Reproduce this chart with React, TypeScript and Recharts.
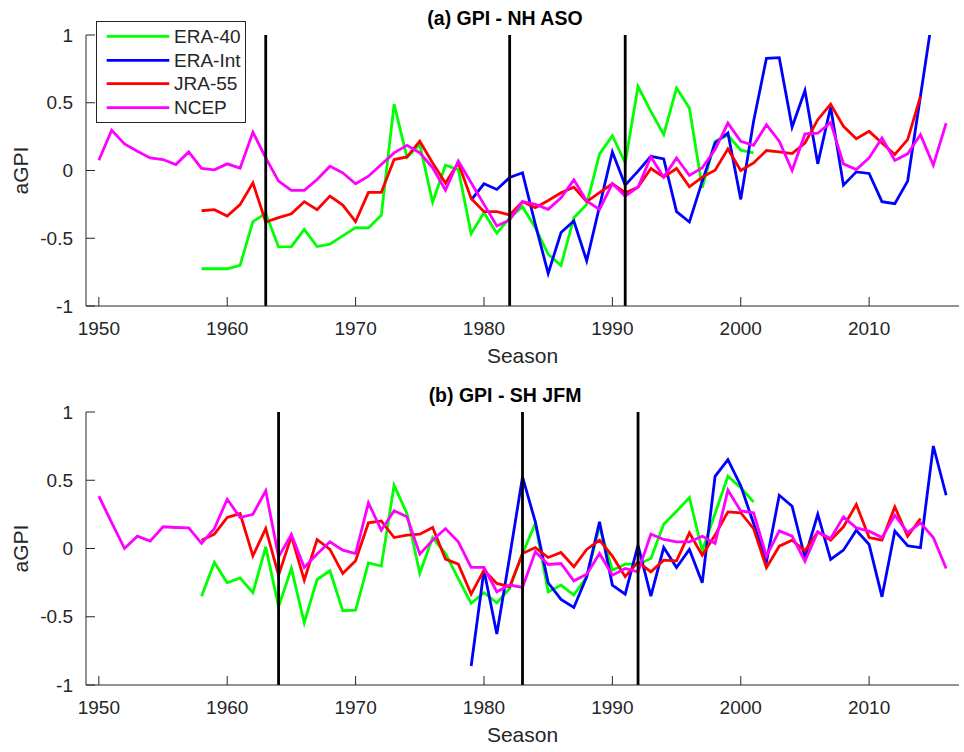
import React from 'react';
import { LineChart, Line, XAxis, YAxis, ReferenceLine, Legend } from 'recharts';

// ---------- data ----------
const FIRST_YEAR = 1950;
const LAST_YEAR = 2016;
const X_TICKS = [1950, 1960, 1970, 1980, 1990, 2000, 2010];
const Y_TICKS = [-1, -0.5, 0, 0.5, 1];

const SERIES_NAMES = ['ERA-40', 'ERA-Int', 'JRA-55', 'NCEP'];
const SERIES_COLORS = ['#00ff00', '#0000ff', '#ff0000', '#ff00ff'];

// Panel (a) GPI - NH ASO
const ERA40_A_START = 1958;
const ERA40_A = [-0.725, -0.725, -0.725, -0.7, -0.377, -0.316, -0.564, -0.562, -0.434, -0.561, -0.544, -0.483, -0.422, -0.424, -0.331, 0.49, 0.098, 0.191, -0.233, 0.039, 0.007, -0.466, -0.311, -0.463, -0.35, -0.267, -0.422, -0.618, -0.701, -0.348, -0.25, 0.123, 0.257, 0.056, 0.62, 0.436, 0.265, 0.608, 0.461, -0.127, 0.216, 0.26, 0.15, 0.13];
const ERAINT_A_START = 1979;
const ERAINT_A = [-0.218, -0.098, -0.14, -0.052, -0.017, -0.397, -0.76, -0.458, -0.373, -0.667, -0.265, 0.137, -0.108, -0.005, 0.105, 0.086, -0.304, -0.38, -0.08, 0.203, 0.277, -0.213, 0.363, 0.828, 0.833, 0.321, 0.591, 0.049, 0.468, -0.108, -0.01, -0.022, -0.23, -0.245, -0.078, 0.55, 1.18];
const JRA55_A_START = 1958;
const JRA55_A = [-0.297, -0.289, -0.336, -0.252, -0.091, -0.38, -0.348, -0.319, -0.23, -0.289, -0.189, -0.255, -0.377, -0.162, -0.162, 0.081, 0.1, 0.216, 0.056, -0.093, 0.056, -0.206, -0.304, -0.304, -0.328, -0.23, -0.275, -0.221, -0.164, -0.123, -0.23, -0.164, -0.098, -0.164, -0.123, 0.015, -0.049, 0.015, -0.12, -0.049, 0.002, 0.159, 0.0, 0.056, 0.147, 0.137, 0.125, 0.203, 0.375, 0.49, 0.326, 0.235, 0.289, 0.203, 0.118, 0.228, 0.547];
const NCEP_A_START = 1950;
const NCEP_A = [0.076, 0.297, 0.196, 0.142, 0.093, 0.081, 0.044, 0.137, 0.015, 0.005, 0.049, 0.017, 0.282, 0.093, -0.078, -0.147, -0.147, -0.066, 0.032, -0.017, -0.098, -0.042, 0.044, 0.13, 0.186, 0.13, 0.02, -0.145, 0.069, -0.09, -0.25, -0.409, -0.365, -0.23, -0.25, -0.287, -0.201, -0.069, -0.225, -0.287, -0.096, -0.189, -0.123, 0.1, -0.049, 0.093, -0.037, 0.02, 0.154, 0.35, 0.216, 0.186, 0.338, 0.216, 0.0, 0.27, 0.275, 0.355, 0.049, 0.007, 0.093, 0.24, 0.074, 0.123, 0.265, 0.039, 0.35];
const BREAKS_A = [1963, 1982, 1991];

// Panel (b) GPI - SH JFM
const ERA40_B_START = 1958;
const ERA40_B = [-0.349, -0.102, -0.251, -0.215, -0.324, 0.012, -0.427, -0.146, -0.544, -0.227, -0.163, -0.456, -0.451, -0.105, -0.129, 0.463, 0.256, -0.183, 0.08, -0.037, -0.22, -0.402, -0.324, -0.398, -0.293, -0.037, 0.183, -0.317, -0.268, -0.341, -0.207, 0.163, -0.159, -0.115, -0.115, -0.073, 0.178, 0.273, 0.373, -0.017, 0.256, 0.529, 0.446, 0.341];
const ERAINT_B_START = 1979;
const ERAINT_B = [-0.861, -0.159, -0.627, -0.06, 0.524, 0.195, -0.251, -0.373, -0.432, -0.207, 0.195, -0.268, -0.334, 0.024, -0.349, 0.007, -0.139, -0.007, -0.251, 0.529, 0.651, 0.46, 0.183, -0.098, 0.39, 0.31, -0.066, 0.251, -0.08, -0.012, 0.134, 0.029, -0.354, 0.127, 0.02, 0.007, 0.751, 0.39];
const JRA55_B_START = 1958;
const JRA55_B = [0.061, 0.105, 0.227, 0.256, -0.054, 0.146, -0.195, 0.09, -0.232, 0.066, -0.007, -0.183, -0.09, 0.188, 0.202, 0.08, 0.098, 0.105, 0.154, -0.078, -0.115, -0.334, -0.159, -0.256, -0.28, -0.037, 0.007, -0.066, -0.029, -0.134, -0.007, 0.061, -0.056, -0.207, -0.098, -0.171, -0.085, -0.09, 0.115, -0.049, 0.098, 0.268, 0.262, 0.146, -0.141, 0.017, 0.061, -0.017, 0.122, 0.061, 0.159, 0.322, 0.08, 0.061, 0.305, 0.09, 0.22];
const NCEP_B_START = 1950;
const NCEP_B = [0.383, 0.19, 0.0, 0.09, 0.054, 0.159, 0.154, 0.151, 0.037, 0.146, 0.361, 0.227, 0.251, 0.422, -0.061, 0.102, -0.139, -0.041, 0.049, -0.012, -0.037, 0.334, 0.134, 0.276, 0.232, -0.041, 0.061, 0.146, 0.049, -0.139, -0.139, -0.317, -0.268, -0.285, -0.024, -0.117, -0.11, -0.237, -0.188, -0.037, -0.195, -0.146, -0.171, 0.105, 0.066, 0.049, 0.049, 0.09, 0.037, 0.427, 0.275, 0.261, -0.056, 0.129, 0.09, -0.093, 0.122, 0.073, 0.232, 0.151, 0.127, 0.08, 0.244, 0.117, 0.188, 0.08, -0.146];
const BREAKS_B = [1964, 1983, 1992];

// ---------- helpers ----------
type Src = { key: string; start: number; values: number[] };

function buildRows(series: Src[]) {
  const rows: any[] = [];
  for (let y = FIRST_YEAR; y <= LAST_YEAR; y++) {
    const row: any = { year: y };
    series.forEach((s) => {
      const i = y - s.start;
      row[s.key] = i >= 0 && i < s.values.length ? s.values[i] : null;
    });
    rows.push(row);
  }
  return rows;
}

const DATA_A = buildRows([
  { key: 'ERA-40', start: ERA40_A_START, values: ERA40_A },
  { key: 'ERA-Int', start: ERAINT_A_START, values: ERAINT_A },
  { key: 'JRA-55', start: JRA55_A_START, values: JRA55_A },
  { key: 'NCEP', start: NCEP_A_START, values: NCEP_A },
]);
const DATA_B = buildRows([
  { key: 'ERA-40', start: ERA40_B_START, values: ERA40_B },
  { key: 'ERA-Int', start: ERAINT_B_START, values: ERAINT_B },
  { key: 'JRA-55', start: JRA55_B_START, values: JRA55_B },
  { key: 'NCEP', start: NCEP_B_START, values: NCEP_B },
]);

const FONT = '"Liberation Sans", Arial, Helvetica, sans-serif';
const AX = '#262626';
const TICK_FS = 19;
const LABEL_FS = 21;
const TICK_LEN = 9;
const SERIES_W = 2.8;

const BottomTick = (props: any) => {
  const { x, y, payload } = props;
  return (
    <g>
      <line x1={x} x2={x} y1={y} y2={y - TICK_LEN} stroke={AX} strokeWidth={1} />
      <text x={x} y={y + 22} textAnchor="middle" dominantBaseline="central" fontSize={TICK_FS} fill={AX} fontFamily={FONT}>
        {payload.value}
      </text>
    </g>
  );
};
const TopTick = (props: any) => {
  const { x, y } = props;
  return <line x1={x} x2={x} y1={y} y2={y + TICK_LEN} stroke={AX} strokeWidth={1} />;
};
const LeftTick = (props: any) => {
  const { x, y, payload } = props;
  return (
    <g>
      <line x1={x} x2={x + TICK_LEN} y1={y} y2={y} stroke={AX} strokeWidth={1} />
      <text x={x - 13} y={y} textAnchor="end" dominantBaseline="central" fontSize={TICK_FS} fill={AX} fontFamily={FONT}>
        {String(payload.value)}
      </text>
    </g>
  );
};
const RightTick = (props: any) => {
  const { x, y } = props;
  return <line x1={x} x2={x - TICK_LEN} y1={y} y2={y} stroke={AX} strokeWidth={1} />;
};

const LegendBox = () => {
  const rowsY = [15.3, 39.3, 62.6, 86.6];
  return (
    <div style={{ width: 150, height: 102, border: `1px solid ${AX}`, background: '#fff', boxSizing: 'border-box' }}>
      <svg width={148} height={100} style={{ display: 'block' }}>
        {SERIES_NAMES.map((n, i) => (
          <g key={n}>
            <line x1={9.7} x2={72.3} y1={rowsY[i] - 1} y2={rowsY[i] - 1} stroke={SERIES_COLORS[i]} strokeWidth={SERIES_W} />
            <text x={77} y={rowsY[i] - 1} dominantBaseline="central" fontSize={TICK_FS} fill={AX} fontFamily={FONT}>
              {n}
            </text>
          </g>
        ))}
      </svg>
    </div>
  );
};

type PanelProps = {
  title: string;
  data: any[];
  breaks: number[];
  marginTop: number;
  xAxisHeight: number;
  showLegend: boolean;
};

const Panel = ({ title, data, breaks, marginTop, xAxisHeight, showLegend }: PanelProps) => {
  const W = 964;
  const H = 376;
  return (
    <div style={{ position: 'relative', width: W, height: H }}>
      <div
        style={{
          position: 'absolute',
          left: 305,
          width: 400,
          top: marginTop - 29,
          height: 24,
          lineHeight: '24px',
          textAlign: 'center',
          fontFamily: FONT,
          fontWeight: 'bold',
          fontSize: 19.5,
          color: '#000',
          zIndex: 2,
        }}
      >
        {title}
      </div>
      <LineChart width={W} height={H} data={data} margin={{ top: marginTop, right: 5, bottom: 0, left: 0 }}>
        <XAxis
          dataKey="year"
          type="number"
          domain={[1949, 2017]}
          ticks={X_TICKS}
          allowDataOverflow
          height={xAxisHeight}
          tickSize={0}
          tickMargin={0}
          tickLine={false}
          axisLine={{ stroke: AX, strokeWidth: 1 }}
          tick={<BottomTick />}
          interval={0}
          label={{
            content: (p: any) => {
              const vb = p.viewBox || {};
              return (
                <text x={vb.x + vb.width / 2} y={vb.y + 49.5} textAnchor="middle" dominantBaseline="central" fontSize={LABEL_FS} fill={AX} fontFamily={FONT}>
                  Season
                </text>
              );
            },
          }}
        />
        <XAxis
          xAxisId="top"
          orientation="top"
          dataKey="year"
          type="number"
          domain={[1949, 2017]}
          ticks={X_TICKS}
          allowDataOverflow
          height={0}
          tickSize={0}
          tickMargin={0}
          tickLine={false}
          axisLine={{ stroke: AX, strokeWidth: 1 }}
          tick={<TopTick />}
          interval={0}
        />
        <YAxis
          type="number"
          domain={[-1, 1]}
          ticks={Y_TICKS}
          allowDataOverflow
          width={86}
          tickSize={0}
          tickMargin={0}
          tickLine={false}
          axisLine={{ stroke: AX, strokeWidth: 1 }}
          tick={<LeftTick />}
          interval={0}
          label={{
            content: (p: any) => {
              const vb = p.viewBox || {};
              const cy = vb.y + vb.height / 2;
              return (
                <text x={20.5} y={cy} transform={`rotate(-90, 20.5, ${cy})`} textAnchor="middle" dominantBaseline="central" fontSize={LABEL_FS} fill={AX} fontFamily={FONT}>
                  aGPI
                </text>
              );
            },
          }}
        />
        <YAxis
          yAxisId="right"
          orientation="right"
          type="number"
          domain={[-1, 1]}
          ticks={Y_TICKS}
          allowDataOverflow
          width={0}
          tickSize={0}
          tickMargin={0}
          tickLine={false}
          axisLine={{ stroke: AX, strokeWidth: 1 }}
          tick={<RightTick />}
          interval={0}
        />
        {SERIES_NAMES.map((n, i) => (
          <Line
            key={n}
            dataKey={n}
            name={n}
            type="linear"
            stroke={SERIES_COLORS[i]}
            strokeWidth={SERIES_W}
            dot={false}
            activeDot={false}
            isAnimationActive={false}
            connectNulls={false}
          />
        ))}
        {breaks.map((b) => (
          <ReferenceLine key={b} x={b} stroke="#000" strokeWidth={2.8} />
        ))}
        {showLegend && (
          <Legend
            layout="vertical"
            align="center"
            verticalAlign="middle"
            wrapperStyle={{ left: 96, top: 20.7, width: 150, height: 102, zIndex: 3 }}
            content={() => <LegendBox />}
          />
        )}
      </LineChart>
    </div>
  );
};

export default function App() {
  return (
    <div style={{ position: 'absolute', left: 0, top: 0, width: 964, height: 752, background: '#fff', overflow: 'hidden' }}>
      <div style={{ position: 'absolute', left: 0, top: 0 }}>
        <Panel title="(a) GPI - NH ASO" data={DATA_A} breaks={BREAKS_A} marginTop={35} xAxisHeight={70} showLegend />
      </div>
      <div style={{ position: 'absolute', left: 0, top: 376 }}>
        <Panel title="(b) GPI - SH JFM" data={DATA_B} breaks={BREAKS_B} marginTop={36} xAxisHeight={67} showLegend={false} />
      </div>
    </div>
  );
}
